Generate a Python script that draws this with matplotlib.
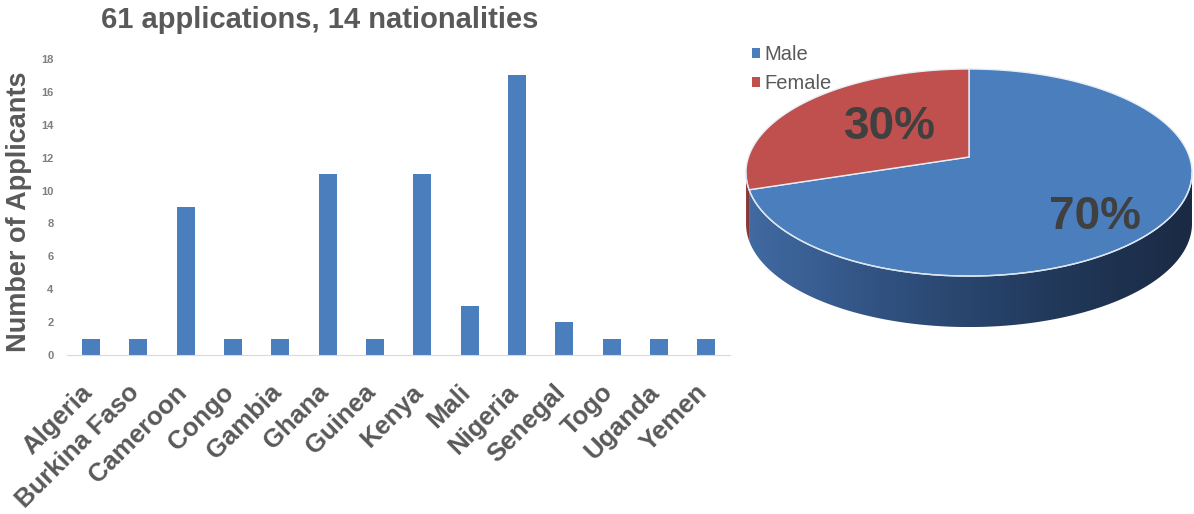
import matplotlib
matplotlib.use('Agg')
import matplotlib.pyplot as plt
from matplotlib.patches import Polygon, Patch
from matplotlib.colors import LinearSegmentedColormap
import numpy as np

plt.rcParams['font.family'] = ['Liberation Sans', 'DejaVu Sans']

countries = ['Algeria', 'Burkina Faso', 'Cameroon', 'Congo', 'Gambia', 'Ghana',
             'Guinea', 'Kenya', 'Mali', 'Nigeria', 'Senegal', 'Togo', 'Uganda', 'Yemen']
applicants = [1, 1, 9, 1, 1, 11, 1, 11, 3, 17, 2, 1, 1, 1]
y_ticks = list(range(0, 19, 2))

genders = ['Male', 'Female']
gender_pct = [70, 30]

TEXT = '#595959'
BLUE = '#4A7EBD'
RED = '#C0504D'
W, H = 1194, 514

fig = plt.figure(figsize=(W / 100, H / 100), dpi=100)

# 3D-looking pie, drawn in pixel coordinates
###############################################################################
pax = fig.add_axes([0, 0, 1, 1])
pax.axis('off')

cx, cy = 969, 157      # apex of the slices
a, b = 220.5, 101.2    # half axes of the top face
k = 0.15               # perspective strength
depth = 51


def proj(t, r=1.0, dz=0.0):
    t = np.radians(t)
    f = 1 / (1 + k * r * np.sin(t))
    return cx + a * r * np.cos(t) * f, cy - b * r * np.sin(t) * f + dz


sil = np.degrees(np.arcsin(k))
vis_lo, vis_hi = -180 + sil, -sil   # front part of the rim that is visible

face_cols = [BLUE, RED]
side_cmaps = [LinearSegmentedColormap.from_list('m', ['#416AA2', '#2F4F7D', '#223A5C', '#1A2A44']),
              LinearSegmentedColormap.from_list('f', ['#94403D', '#7A302E'])]
label_r = [0.756, 0.486]
label_turn = [-10, -3.6]

start = 90
edges = []
for i, p in enumerate(gender_pct):
    t2 = start
    t1 = start - 360 * p / 100
    start = t1
    edges.append((t1, t2))

grad = np.linspace(0, 1, 256).reshape(1, -1)
for i, (t1, t2) in enumerate(edges):
    lo, hi = max(t1, vis_lo), min(t2, vis_hi)
    if hi <= lo:
        continue
    ts = np.linspace(lo, hi, 120)
    tx, ty = proj(ts)
    bx, by = proj(ts[::-1], dz=depth)
    pts = np.column_stack([np.r_[tx, bx], np.r_[ty, by]])
    poly = Polygon(pts, closed=True, facecolor='none', edgecolor='none')
    pax.add_patch(poly)
    im = pax.imshow(grad, cmap=side_cmaps[i], aspect='auto',
                    extent=(pts[:, 0].min(), pts[:, 0].max(), pts[:, 1].max(), pts[:, 1].min()),
                    zorder=1)
    im.set_clip_path(poly)

for i, (t1, t2) in enumerate(edges):
    ts = np.linspace(t1, t2, 200)
    tx, ty = proj(ts)
    pts = np.column_stack([np.r_[cx, tx], np.r_[cy, ty]])
    pax.add_patch(Polygon(pts, closed=True, facecolor=face_cols[i],
                          edgecolor='#E8EEF6', lw=1.0, zorder=2))

# light rim between top face and side
ts = np.linspace(vis_lo, vis_hi, 200)
rx, ry = proj(ts)
pax.plot(rx, ry, color='#DCE6F2', lw=1.0, zorder=3)

for i, (t1, t2) in enumerate(edges):
    lx, ly = proj((t1 + t2) / 2 + label_turn[i], r=label_r[i])
    pax.text(lx, ly, f'{gender_pct[i]}%', fontsize=33, fontweight='bold',
             color='#404040', ha='center', va='center', zorder=4)

pax.set_xlim(0, W)
pax.set_ylim(H, 0)

handles = [Patch(facecolor=c, edgecolor='none') for c in face_cols]
fig.legend(handles, genders, loc='upper left', bbox_to_anchor=(742 / W, 1 - 35 / H),
           frameon=False, fontsize=14.5, handlelength=0.38, handleheight=0.38,
           handletextpad=0.25, labelspacing=0.5, labelcolor=TEXT, borderpad=0)

# Bar chart of applicants per country
###############################################################################
ax = fig.add_axes([67.4 / W, 1 - 355 / H, (730 - 67.4) / W, (355 - 59) / H])
x = np.arange(len(countries))
ax.bar(x, applicants, width=0.38, color=BLUE)
ax.set_xlim(-0.5, len(countries) - 0.5)
ax.set_ylim(0, 18)
ax.set_yticks(y_ticks)
# labels sit a touch right of the bar centres
ax.set_xticks(x + 0.12)
ax.set_xticklabels(countries, rotation=45, ha='right', fontsize=18.5,
                   fontweight='bold', color=TEXT)
for lab in ax.get_yticklabels():
    lab.set_fontweight('bold')
ax.tick_params(axis='y', length=0, pad=10, labelsize=8, labelcolor='#7F7F7F')
ax.tick_params(axis='x', length=0, pad=18)
for s in ['top', 'right', 'left']:
    ax.spines[s].set_visible(False)
ax.spines['bottom'].set_color('#D9D9D9')
ax.patch.set_alpha(0)

fig.text(320 / W, 1 - 20 / H, '61 applications, 14 nationalities', fontsize=21,
         fontweight='bold', color=TEXT, ha='center', va='center')
fig.text(19 / W, 1 - 212 / H, 'Number of Applicants', fontsize=19.5,
         fontweight='bold', color=TEXT, rotation=90, ha='center', va='center')

fig.savefig('out.png', dpi=100)
